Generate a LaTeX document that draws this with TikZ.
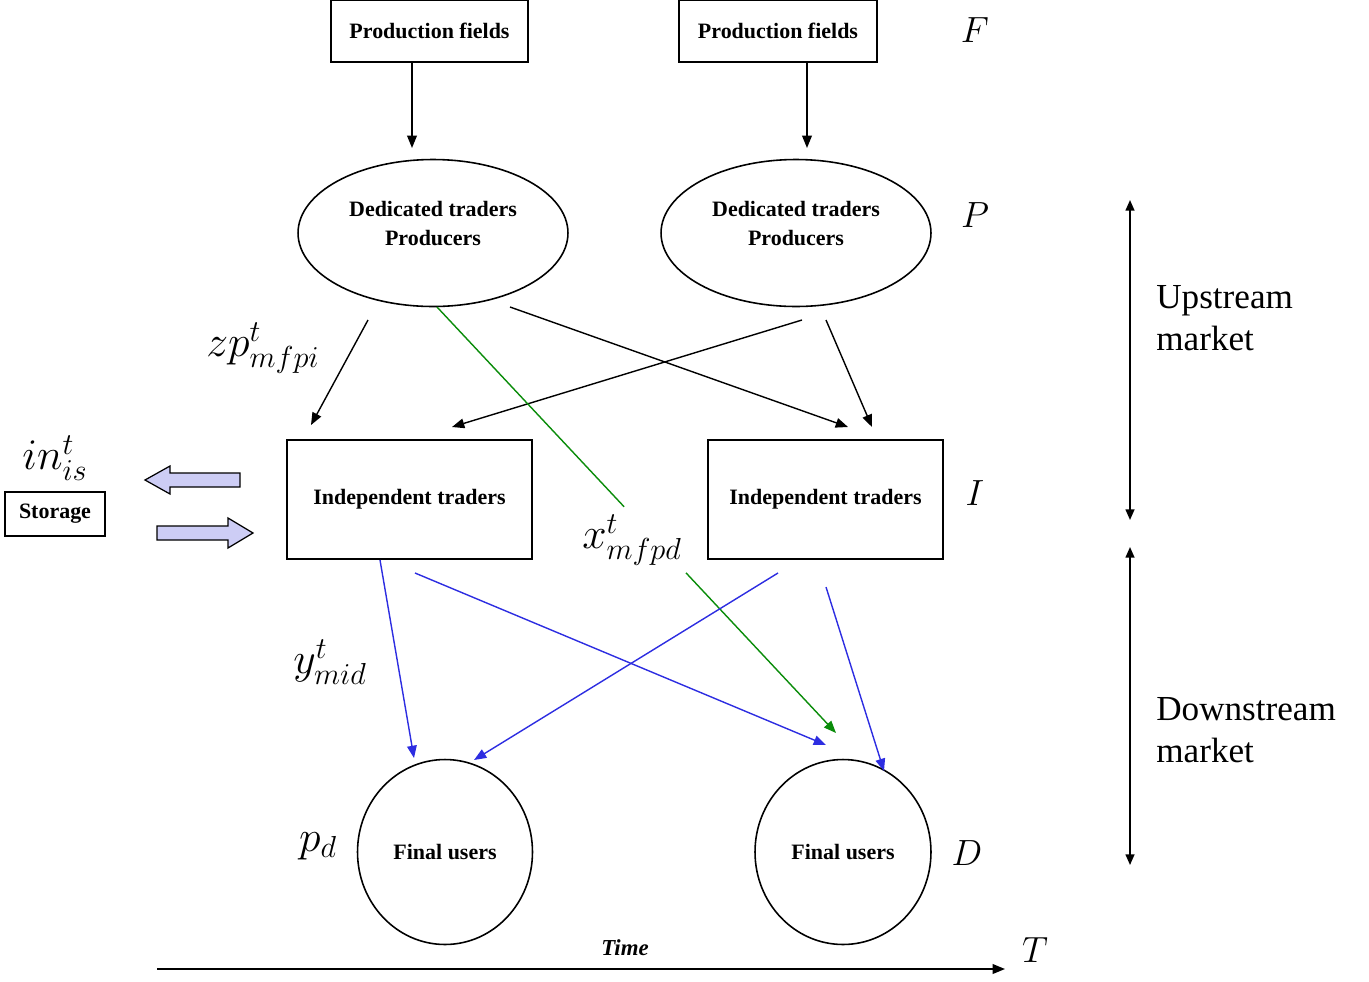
\documentclass[tikz,border=0pt]{standalone}
\usepackage{fontspec}
\setmainfont{Liberation Serif}
\usetikzlibrary{shapes.geometric,arrows.meta,calc}
\definecolor{lineblue}{RGB}{45,45,225}
\definecolor{linegreen}{RGB}{10,140,10}
\definecolor{lav}{RGB}{205,205,245}
\begin{document}
\begin{tikzpicture}[x=0.02cm,y=-0.02cm,
  box/.style={draw,line width=1pt,inner sep=0pt,align=center,font=\fontsize{12.5}{15}\selectfont\bfseries},
  oval/.style={draw,ellipse,line width=0.9pt,inner sep=0pt,align=center,font=\fontsize{12.5}{16}\selectfont\bfseries},
  mlab/.style={inner sep=0pt,font=\fontsize{20}{24}\selectfont},
  slab/.style={inner sep=0pt,font=\fontsize{23}{27}\selectfont},
  side/.style={inner sep=0pt,align=left,anchor=west,font=\fontsize{20}{24}\selectfont},
  tip/.style={-{Triangle[length=7pt,width=5.5pt]}},
  con/.style={line width=0.8pt,tip},
  bcon/.style={con,lineblue},
  gcon/.style={line width=0.8pt,linegreen},
  blockarrow/.style={draw,line width=0.7pt,fill=lav}
]
\useasboundingbox (0,0) rectangle (1369,981);

% nodes
\node[box,minimum width=3.94cm,minimum height=1.24cm] (pf1) at (429.5,31) {Production fields};
\node[box,minimum width=3.96cm,minimum height=1.24cm] (pf2) at (778,31) {Production fields};
\node[oval,minimum width=5.4cm,minimum height=2.94cm] (e1) at (433,233) {Dedicated traders\\Producers\\[-5pt]};
\node[oval,minimum width=5.4cm,minimum height=2.94cm] (e2) at (796,233) {Dedicated traders\\Producers\\[-5pt]};
\node[box,minimum width=4.9cm,minimum height=2.38cm] (it1) at (409.5,499.5) {Independent traders};
\node[box,minimum width=4.7cm,minimum height=2.38cm] (it2) at (825.5,499.5) {Independent traders};
\node[oval,minimum width=3.5cm,minimum height=3.7cm] (fu1) at (445,852) {Final users};
\node[oval,minimum width=3.52cm,minimum height=3.7cm] (fu2) at (843,852) {Final users};
\node[box,minimum width=2cm,minimum height=0.88cm] (st) at (55,514) {Storage};

% letters
\node[mlab] (lF) at (975,30) {$F$};
\node[mlab] (lP) at (975,215) {$P$};
\node[mlab] (lI) at (975,493) {$I$};
\node[mlab] (lD) at (967,853) {$D$};
\node[mlab] (lT) at (1035,950) {$T$};
\node[slab] (lpd) at (318,846) {$p_d$};
\node[slab] (lzp) at (263,348) {$zp^t_{mfpi}$};
\node[slab] (ly) at (330,662) {$y^t_{mid}$};
\node[slab] (lx) at (632,540) {$x^t_{mfpd}$};
\node[slab] (lin) at (55,458) {$in^t_{is}$};
\node[side] (up) at (1156,318) {Upstream\\market};
\node[side] (down) at (1156,730) {Downstream\\market};
\node[inner sep=0pt,font=\fontsize{13}{15}\selectfont\bfseries\itshape] (time) at (625,948) {Time};

% production arrows
\draw[con] ($(pf1.center)+(-17.5,31)$) -- ($(e1.center)+(-21,-85)$);
\draw[con] ($(pf2.center)+(29,31)$) -- ($(e2.center)+(11,-85)$);

% upstream black arrows
\draw[con] ($(e1.center)+(-65,87)$) -- ($(it1.center)+(-98.5,-74.5)$);
\draw[con] ($(e2.center)+(6,87)$) -- ($(it1.center)+(42.5,-72.5)$);
\draw[con] ($(e1.center)+(77,74)$) -- ($(it2.center)+(22.5,-72.5)$);
\draw[con] ($(e2.center)+(30,87)$) -- ($(it2.center)+(46.5,-72.5)$);

% green arrow (interrupted by its label)
\coordinate (gA) at ($(e1.center)+(4,74)$);
\coordinate (gB) at ($(fu2.center)+(-7,-119)$);
\draw[gcon] (gA) -- ($(gA)!0.469!(gB)$);
\draw[gcon,tip] ($(gA)!0.624!(gB)$) -- (gB);

% downstream blue arrows
\draw[bcon] ($(it1.center)+(-29.5,60.5)$) -- ($(fu1.center)+(-31,-94)$);
\draw[bcon] ($(it1.center)+(5.5,73.5)$) -- ($(fu2.center)+(-17,-107)$);
\draw[bcon] ($(it2.center)+(-47.5,73.5)$) -- ($(fu1.center)+(29,-92)$);
\draw[bcon] ($(it2.center)+(0.5,87.5)$) -- ($(fu2.center)+(41,-81)$);

% storage block arrows
\draw[blockarrow] (240,473) -- (170,473) -- (170,466) -- (145,480) -- (170,494) -- (170,487) -- (240,487) -- cycle;
\draw[blockarrow] (157,526) -- (228,526) -- (228,518) -- (253,533) -- (228,548) -- (228,540) -- (157,540) -- cycle;

% time axis
\coordinate (t0) at (157,969);
\coordinate (t1) at (1005,969);
\draw[line width=0.9pt,tip] (t0) -- (t1);

% market ranges
\coordinate (u0) at (1130,200);
\coordinate (u1) at (1130,520);
\coordinate (d0) at (1130,547);
\coordinate (d1) at (1130,865);
\draw[line width=0.9pt,{Triangle[length=6pt,width=5pt]}-{Triangle[length=6pt,width=5pt]}] (u0) -- (u1);
\draw[line width=0.9pt,{Triangle[length=6pt,width=5pt]}-{Triangle[length=6pt,width=5pt]}] (d0) -- (d1);
\end{tikzpicture}
\end{document}
